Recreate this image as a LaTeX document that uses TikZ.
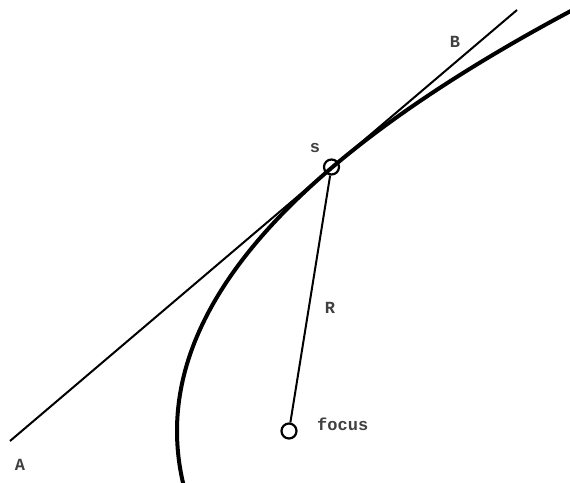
\documentclass[tikz,border=0pt]{standalone}
\usepackage{fontspec}
\setmonofont{Liberation Mono}
\begin{document}
\begin{tikzpicture}[x=1pt,y=-1pt,
  lbl/.style={font=\fontsize{17}{19}\selectfont\ttfamily\bfseries, inner sep=0pt, text=black!75},
  pt/.style={circle, draw, line width=2.2pt, minimum size=15pt, inner sep=0pt},
  tline/.style={line width=2pt},
  curve/.style={line width=4pt}]
\useasboundingbox (0,0) rectangle (570,482);
% parabola (y-431)^2 = 448 (x-177)
\draw[curve] plot[domain=-1.9:0.24, samples=120, variable=\t] ({177+112*\t*\t},{431+224*\t});
\coordinate (Aend) at (10,441);
\coordinate (Bend) at (517,10);
\draw[tline] (Aend) -- (Bend);
\node[pt] (S) at (331.5,167) {};
\node[pt] (F) at (289,431) {};
\draw[tline] (S) -- (F);
\node[lbl] (ls) at (315,148) {s};
\node[lbl] (lb) at (455,42) {B};
\node[lbl] (lr) at (330,308) {R};
\node[lbl] (la) at (20,465) {A};
\node[lbl, anchor=west] (lf) at (317,424) {focus};
\end{tikzpicture}
\end{document}
